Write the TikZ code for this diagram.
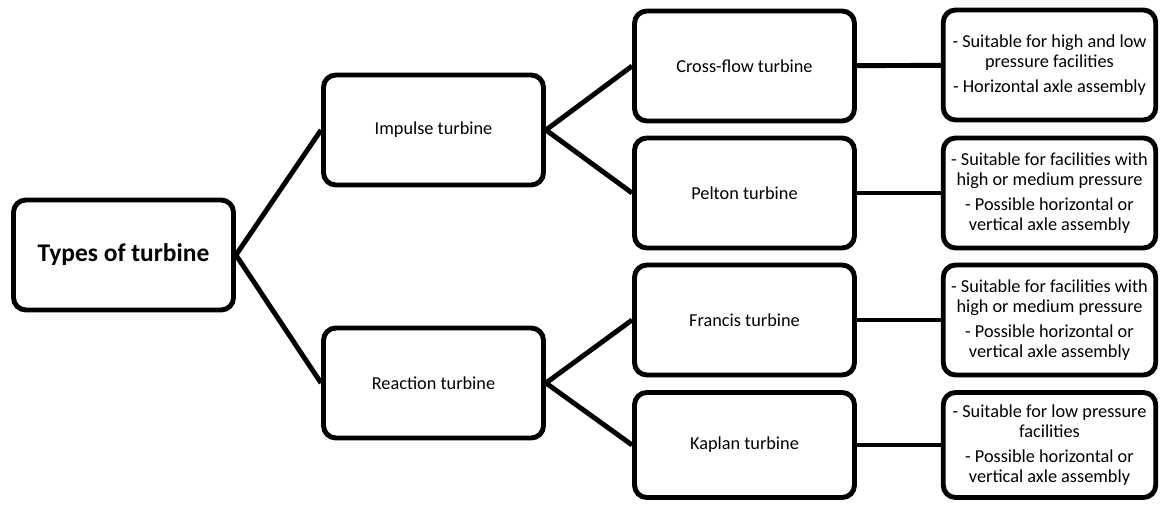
\documentclass[tikz,border=0pt]{standalone}
\usepackage{fontspec}
\setmainfont{Carlito}
\usepackage{tikz}
\usetikzlibrary{positioning}
\tikzset{ turb_box/.style = {rectangle, rounded corners=7pt, draw, line width=2.8pt, align=center, minimum width=4.4cm, minimum height=2.2cm, font=\fontsize{10.4}{12.5}\selectfont} }
\tikzset{ note_box/.style = {turb_box, minimum width=4.25cm, font=\fontsize{10.4}{11.4}\selectfont} }
\tikzset{ link/.style = {line width=2.8pt} }

\begin{document}
\begin{tikzpicture}[x=0.02cm,y=-0.02cm]
            \useasboundingbox (0,0) rectangle (1160,504);
            \node[turb_box, font=\fontsize{14.5}{17}\bfseries] (types) at (123.5,255) {Types of turbine};
            \node[turb_box] (impulse) at (433.5,130) {Impulse turbine};
            \node[turb_box] (reaction) at (433.5,383) {Reaction turbine};
            \node[turb_box] (cross) at (744.5,66) {Cross-flow turbine};
            \node[turb_box] (pelton) at (744.5,193) {Pelton turbine};
            \node[turb_box] (francis) at (744.5,320) {Francis turbine};
            \node[turb_box, minimum height=2.1cm] (kaplan) at (744.5,445) {Kaplan turbine};
            \node[note_box] (n1) at (1049.5,65) {- Suitable for high and low\\pressure facilities\\[3pt]- Horizontal axle assembly};
            \node[note_box] (n2) at (1049.5,193) {- Suitable for facilities with\\high or medium pressure\\[3pt]- Possible horizontal or\\vertical axle assembly};
            \node[note_box] (n3) at (1049.5,320) {- Suitable for facilities with\\high or medium pressure\\[3pt]- Possible horizontal or\\vertical axle assembly};
            \node[note_box, minimum height=2.1cm] (n4) at (1049.5,445) {- Suitable for low pressure\\facilities\\[3pt]- Possible horizontal or\\vertical axle assembly};
            \draw[link] (types.east) to (impulse.west);
            \draw[link] (types.east) to (reaction.west);
            \draw[link] (impulse.east) to (cross.west);
            \draw[link] (impulse.east) to (pelton.west);
            \draw[link] (reaction.east) to (francis.west);
            \draw[link] (reaction.east) to (kaplan.west);
            \draw[link] (cross) to (n1);
            \draw[link] (pelton) to (n2);
            \draw[link] (francis) to (n3);
            \draw[link] (kaplan) to (n4);
        \end{tikzpicture}
\end{document}
